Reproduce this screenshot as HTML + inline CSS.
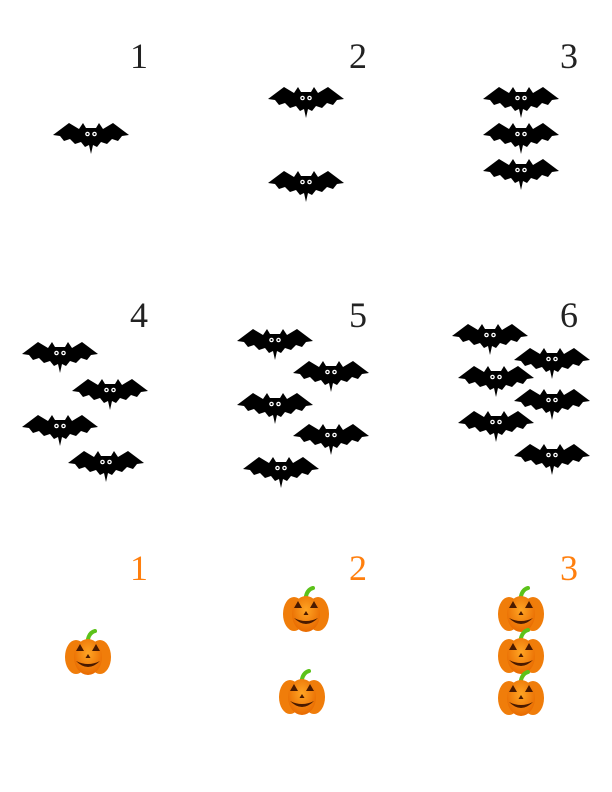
<!DOCTYPE html>
<html><head><meta charset="utf-8"><style>
html,body{margin:0;padding:0;background:#fff}
svg{display:block}
text{font-family:"Liberation Serif",serif;font-size:36px;text-anchor:middle}
</style></head><body>
<svg id="chart" width="612" height="792" viewBox="0 0 612 792" xmlns="http://www.w3.org/2000/svg">
<defs>
<g id="bat">
<path d="M-38,-2 L-22,-14 L-12,-8 L-8,-14 L-5,-9 L5,-9 L8,-14 L12,-8 L22,-14 L38,-2 L31,-1 L27,4 L21,2 L16,7 L10,5 L6,10 L2,8 L0,17 L-2,8 L-6,10 L-10,5 L-16,7 L-21,2 L-27,4 L-31,-1 Z" fill="#000"/>
<circle cx="-3.5" cy="-3" r="2.3" fill="#fff"/><circle cx="3.5" cy="-3" r="2.3" fill="#fff"/>
<circle cx="-3.5" cy="-3" r="1" fill="#000"/><circle cx="3.5" cy="-3" r="1" fill="#000"/>
</g>
<radialGradient id="pg" cx="50%" cy="40%" r="60%"><stop offset="0" stop-color="#ffa524"/><stop offset="1" stop-color="#e86a00"/></radialGradient>
<g id="pumpkin">
<path d="M0,-16 C1,-20 3,-23 7,-24" stroke="#5cc21a" stroke-width="4" fill="none" stroke-linecap="round"/>
<ellipse cx="-12" cy="2" rx="11" ry="17" fill="#f07d0a"/>
<ellipse cx="12" cy="2" rx="11" ry="17" fill="#f07d0a"/>
<ellipse cx="0" cy="2" rx="14" ry="18" fill="url(#pg)"/>
<path d="M-12,-4 L-8,-11 L-4,-4 Z M4,-4 L8,-11 L12,-4 Z M-2.5,3 L0,-1 L2.5,3 Z" fill="#4a1a00"/>
<path d="M-12,6 Q0,18 12,6 Q0,12 -12,6 Z" fill="#4a1a00"/>
</g>
</defs>
<g id="marks"></g>
</svg>
<script>
const batCounts = [1, 2, 3, 4, 5, 6];
const batLabels = ["1", "2", "3", "4", "5", "6"];
const pumpkinCounts = [1, 2, 3];
const pumpkinLabels = ["1", "2", "3"];

const NS = "http://www.w3.org/2000/svg";
const g = document.getElementById("marks");
const colX = [0, 215, 430];
const labelX = [139, 358, 569];
const batLayouts = {
  1: [[91,137]],
  2: [[91,101],[91,185]],
  3: [[91,101],[91,137],[91,173]],
  4: [[60,97],[110,134],[60,170],[106,206]],
  5: [[60,84],[116,116],[60,148],[116,179],[66,212]],
  6: [[60,79],[122,103],[66,121],[122,144],[66,166],[122,199]]
};
const pumpkinLayouts = {
  1: [[88,0]],
  2: [[91,-43],[87,40]],
  3: [[91,-43],[91,-1],[91,41]]
};
function label(x, y, t, color, name) {
  const el = document.createElementNS(NS, "text");
  el.setAttribute("x", x); el.setAttribute("y", y);
  el.setAttribute("fill", color);
  el.textContent = t;
  
  
  g.appendChild(el);
}
function icon(id, x, y, name) {
  const u = document.createElementNS(NS, "use");
  u.setAttribute("href", "#" + id);
  u.setAttribute("transform", "translate(" + x + "," + y + ")");
  
  
  g.appendChild(u);
}
batCounts.forEach((c, i) => {
  const col = i % 3, row = Math.floor(i / 3);
  const ox = colX[col], oy = row * 259;
  label(labelX[col], 68 + oy, batLabels[i], "#222", "bat-count-label");
  const lay = batLayouts[Math.min(6, Math.max(1, c))] || [];
  for (let k = 0; k < c; k++) {
    const p = lay[k] || [91, 101 + k * 36];
    icon("bat", ox + p[0], (row === 0 ? 0 : 259) + p[1], "bat-icon");
  }
});
pumpkinCounts.forEach((c, i) => {
  const ox = colX[i];
  label(labelX[i], 580, pumpkinLabels[i], "#ff7f0e", "pumpkin-count-label");
  const lay = pumpkinLayouts[Math.min(3, Math.max(1, c))] || [];
  for (let k = 0; k < c; k++) {
    const p = lay[k] || [91, -43 + k * 42];
    icon("pumpkin", ox + p[0], 655 + p[1], "pumpkin-icon");
  }
});
</script>
</body></html>
